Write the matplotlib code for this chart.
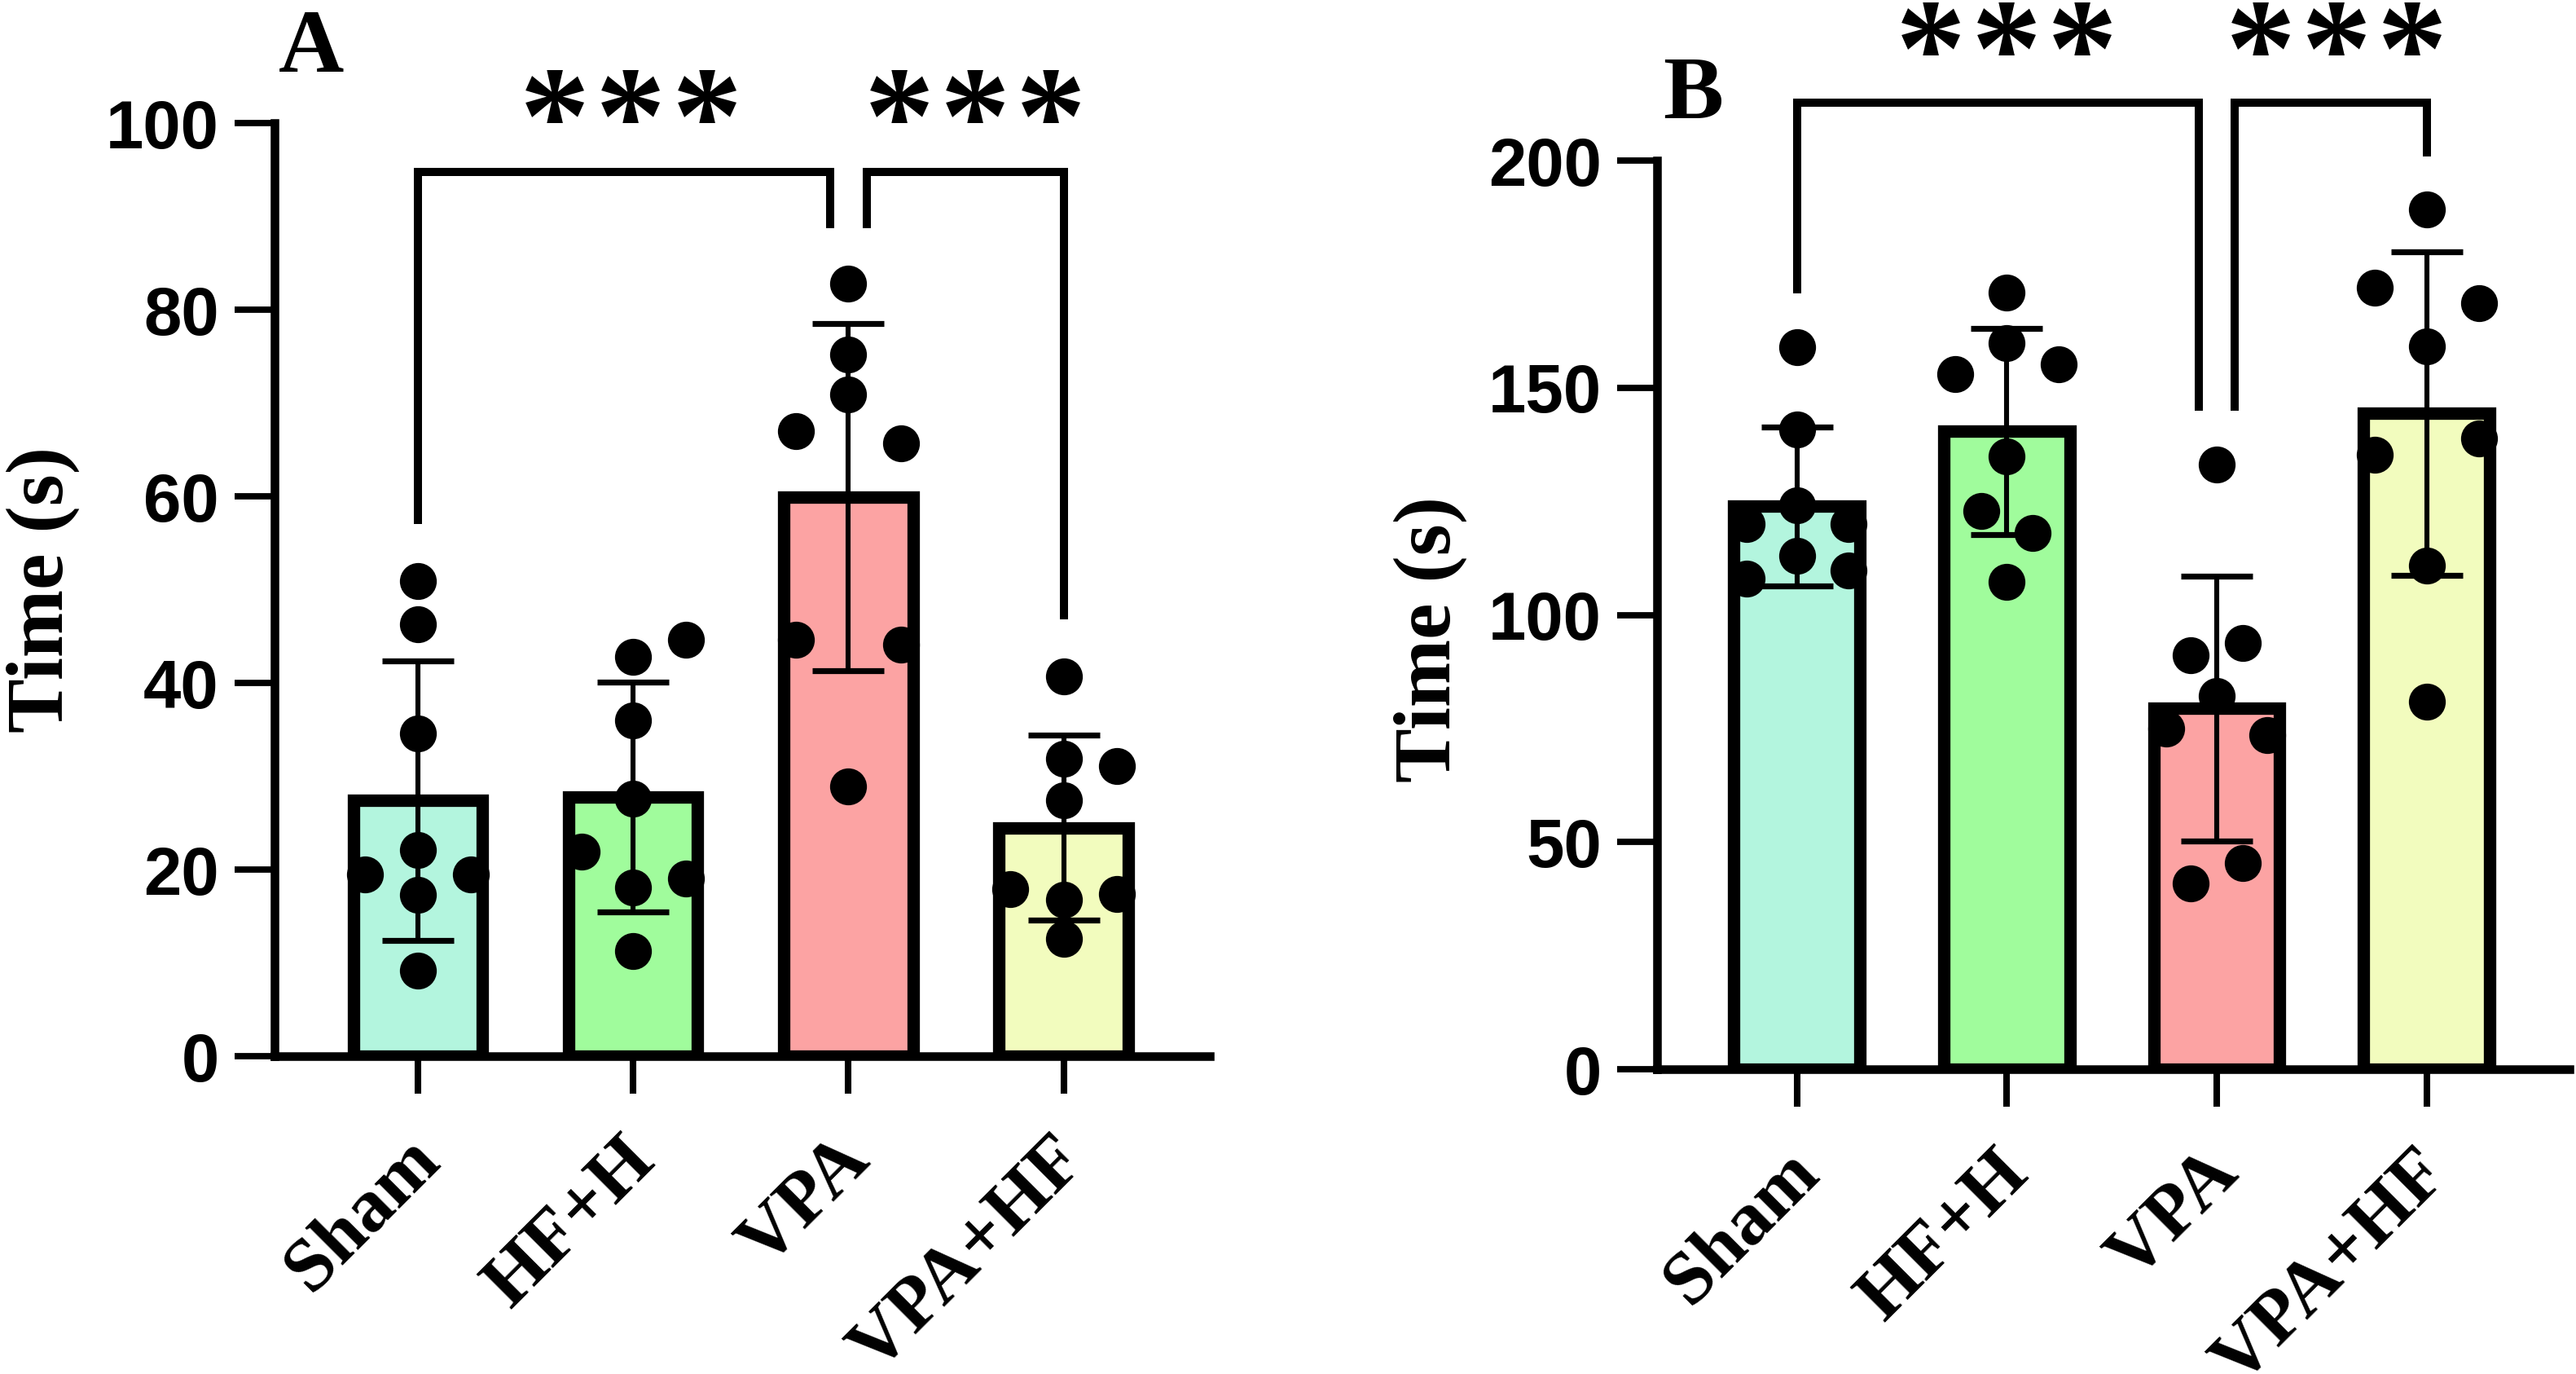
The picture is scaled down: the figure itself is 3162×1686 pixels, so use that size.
import matplotlib
matplotlib.use("Agg")
import matplotlib.pyplot as plt
import matplotlib.transforms as mtransforms
import numpy as np

# ---------------- data ----------------
groups = ["Sham", "HF+H", "VPA", "VPA+HF"]
bar_colors = ["#B3F5DE", "#A0FC9C", "#FCA3A3", "#F2FCBE"]

# Panel A (Time, s)
a_mean = [27.4, 27.8, 59.9, 24.5]
a_sd = [15.0, 12.3, 18.6, 9.9]
a_sham = [50.9, 46.3, 34.6, 22.1, 19.5, 19.5, 17.3, 9.2]
a_hfh = [44.6, 42.8, 36.0, 27.6, 21.9, 19.0, 18.1, 11.3]
a_vpa = [82.8, 75.2, 70.9, 67.0, 65.7, 44.6, 44.1, 28.9]
a_vpahf = [40.7, 31.9, 31.1, 27.4, 17.9, 17.4, 16.8, 12.6]
a_yticks = [0, 20, 40, 60, 80, 100]

# Panel B (Time, s)
b_mean = [123.9, 140.4, 79.4, 144.4]
b_sd = [17.5, 22.7, 29.1, 35.6]
b_sham = [159.0, 140.8, 124.1, 120.0, 120.0, 113.1, 108.0, 109.7]
b_hfh = [170.9, 159.8, 153.0, 155.1, 134.9, 122.9, 118.1, 107.3]
b_vpa = [133.1, 93.9, 91.1, 82.2, 75.0, 73.6, 45.4, 40.9]
b_vpahf = [189.2, 172.0, 168.6, 159.2, 135.3, 138.9, 110.8, 80.9]
b_yticks = [0, 50, 100, 150, 200]

sig_label = "***"

# ---------------- layout (positions / styles) ----------------
a_offsets = [
    [0, 0, 0, 0, -0.245, 0.245, 0, 0],
    [0.247, 0, 0, 0, -0.24, 0.247, 0, 0],
    [0, 0, 0, -0.245, 0.245, -0.245, 0.245, 0],
    [0, 0, 0.247, 0, -0.247, 0.247, 0, 0],
]
b_offsets = [
    [0, 0, 0, -0.24, 0.245, 0, -0.24, 0.245],
    [0, 0, -0.245, 0.248, 0, -0.122, 0.122, 0],
    [0, 0.122, -0.125, 0, -0.242, 0.242, 0.122, -0.125],
    [0, -0.248, 0.248, 0, -0.248, 0.248, 0, 0],
]
# bracket: (x_left, x_right, y_top, y_left_end, y_right_end, star_x, star_y)
a_brackets = [(0.0, 2 - 0.086, 94.8, 57.0, 88.7, 0.99, 102.7),
              (2 + 0.086, 3.0, 94.8, 88.7, 46.8, 2.59, 102.7)]
b_brackets = [(0.0, 2 - 0.086, 212.8, 170.7, 144.9, 1.0, 228.7),
              (2 + 0.086, 3.0, 212.8, 144.9, 200.9, 2.57, 228.7)]

SERIF = "Liberation Serif"
SANS = "Liberation Sans"
STAR_SIZE = 62

fig = plt.figure(figsize=(15.81, 8.43), dpi=200)
axA = fig.add_axes([0.1066, 0.2313, 0.3631, 0.6791])
axB = fig.add_axes([0.6433, 0.2218, 0.3542, 0.6613])


def draw_panel(ax, means, sds, pts, offs, yticks, brackets, label_y):
    x = np.arange(len(groups))
    ax.bar(x, means, width=0.6, color=bar_colors, edgecolor="black",
           linewidth=5.5, zorder=2)
    ax.errorbar(x, means, yerr=sds, fmt="none", ecolor="black",
                elinewidth=2.2, capsize=15.8, capthick=2.6, zorder=3)
    for i in range(len(groups)):
        ax.plot(x[i] + np.array(offs[i]), pts[i], "o", color="black",
                markersize=16.3, markeredgewidth=0, zorder=4, clip_on=False)
    ax.set_xlim(-0.665, 3.68)
    ax.set_ylim(yticks[0], yticks[-1])
    ax.set_yticks(yticks)
    ax.set_xticks(x)
    ax.set_xticklabels(groups)
    for s in ["top", "right"]:
        ax.spines[s].set_visible(False)
    for s in ["left", "bottom"]:
        ax.spines[s].set_linewidth(3.8)
        ax.spines[s].set_capstyle("projecting")
        ax.spines[s].set_zorder(6)
    ax.tick_params(axis="y", length=17.6, width=2.8, pad=7, labelsize=30)
    ax.tick_params(axis="x", length=16.5, width=2.9, pad=14, labelsize=33.5)
    for lbl in ax.get_yticklabels():
        lbl.set_fontfamily(SANS)
        lbl.set_fontweight("bold")
    offset = mtransforms.ScaledTranslation(-6 / 72, 0, fig.dpi_scale_trans)
    for lbl in ax.get_xticklabels():
        lbl.set_fontfamily(SERIF)
        lbl.set_fontweight("bold")
        lbl.set_rotation(45)
        lbl.set_ha("right")
        lbl.set_va("top")
        lbl.set_rotation_mode("anchor")
        lbl.set_transform(lbl.get_transform() + offset)
    ax.set_ylabel("Time (s)", fontsize=36, fontfamily=SERIF, fontweight="bold")
    ax.yaxis.set_label_coords(-0.208, label_y)

    for (xl, xr, yt, yl, yr, sx, sy) in brackets:
        ax.plot([xl, xl, xr, xr], [yl, yt, yt, yr], color="black", lw=3.6,
                solid_joinstyle="miter", solid_capstyle="butt",
                clip_on=False, zorder=5)
        for k, ch in enumerate(sig_label):
            ax.annotate(ch, xy=(sx, sy),
                        xytext=((k - 1) * 33.5, -0.464 * STAR_SIZE),
                        textcoords="offset points", ha="center", va="baseline",
                        fontsize=STAR_SIZE, fontfamily=SERIF, fontweight="bold",
                        annotation_clip=False)


draw_panel(axA, a_mean, a_sd, [a_sham, a_hfh, a_vpa, a_vpahf], a_offsets,
           a_yticks, a_brackets, 0.5)
draw_panel(axB, b_mean, b_sd, [b_sham, b_hfh, b_vpa, b_vpahf], b_offsets,
           b_yticks, b_brackets, 0.473)

fig.text(0.1208, 0.9478, "A", ha="center", va="baseline", fontsize=40,
         fontfamily=SERIF, fontweight="bold")
fig.text(0.6572, 0.914, "B", ha="center", va="baseline", fontsize=40,
         fontfamily=SERIF, fontweight="bold")

fig.savefig("out.png", dpi=200, facecolor="white")
